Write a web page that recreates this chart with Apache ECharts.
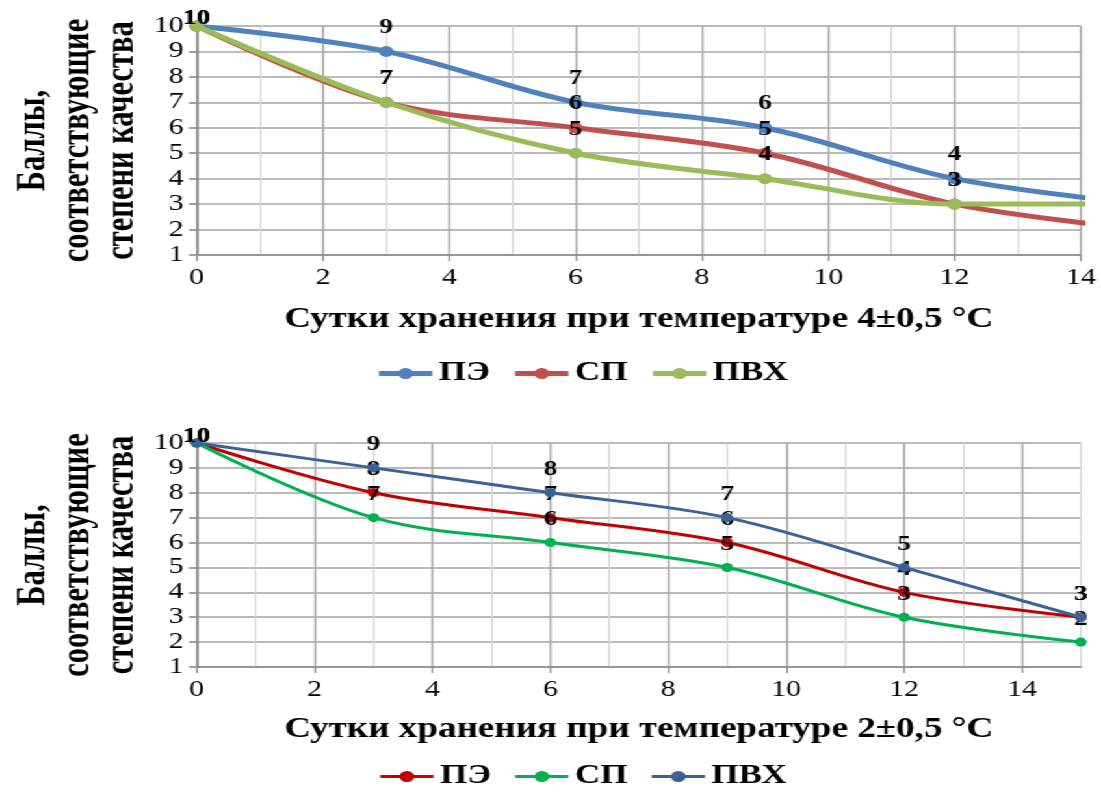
<!DOCTYPE html>
<html><head><meta charset="utf-8">
<script src="https://cdn.jsdelivr.net/npm/echarts@6/dist/echarts.min.js"></script>
<style>
html,body{margin:0;padding:0;background:#fff;overflow:hidden;width:1101px;height:794px;}
#wrap{position:absolute;left:0;top:0;width:847px;height:794px;transform:scaleX(1.3);transform-origin:0 0;}
#c1{position:absolute;left:0;top:0;width:847px;height:400px;}
#c2{position:absolute;left:0;top:400px;width:847px;height:394px;}
</style></head><body>
<div id="wrap"><div id="c1"></div><div id="c2"></div></div>
<script>
// ---- data ----
const seriesNames = ['ПЭ', 'СП', 'ПВХ'];
const days = [0, 3, 6, 9, 12, 15];
const topPE  = [10, 9, 7, 6, 4, 3];
const topSP  = [10, 7, 6, 5, 3, 2];
const topPVC = [10, 7, 5, 4, 3, 3];
const botPE  = [10, 8, 7, 6, 4, 3];
const botSP  = [10, 7, 6, 5, 3, 2];
const botPVC = [10, 9, 8, 7, 5, 3];
const xTickLabels = [0, 2, 4, 6, 8, 10, 12, 14];
const topXMax = 14;
const botXMax = 15;
const topTitle = 'Сутки хранения при температуре 4±0,5 °С';
const botTitle = 'Сутки хранения при температуре 2±0,5 °С';
const yNameLines = ['Баллы,', 'соответствующие', 'степени качества'];

// ---- styles ----
const FONT = 'Liberation Serif';
const AXIS = '#8a8a8a', MAJOR = '#a3a3a3', MINOR = '#d4d4d4';

function makeOption(cfg) {
  const series = cfg.values.map((vals, i) => ({
    name: seriesNames[i],
    type: 'line',
    xAxisIndex: 1,
    yAxisIndex: 0,
    smooth: 0.35,
    symbol: 'circle',
    symbolSize: cfg.symbolSize,
    clip: true,
    z: 3 + i,
    lineStyle: { color: cfg.colors[i], width: cfg.lineWidth },
    itemStyle: { color: cfg.colors[i], borderWidth: 0 },
    label: {
      show: true, position: 'top', distance: 8,
      fontFamily: FONT, fontWeight: 'bold', fontSize: 21, color: '#000',
      formatter: p => p.value[1]
    },
    emphasis: { disabled: true },
    data: days.map((d, j) => j === 0
      ? { value: [d, vals[j]], label: { offset: [0, 17] } }
      : [d, vals[j]])
  }));
  return {
    animation: false,
    grid: { left: 151.3, right: 15.5, top: cfg.gridTop, bottom: cfg.gridBottom, containLabel: false, outerBoundsMode: 'none' },
    legend: {
      data: seriesNames, left: cfg.legendLeft, top: cfg.legendTop, padding: 0,
      itemWidth: 41, itemHeight: 14, itemGap: 17,
      lineStyle: { width: cfg.lineWidth },
      textStyle: { fontFamily: FONT, fontWeight: 'bold', fontSize: 27, color: '#000' }
    },
    xAxis: [
      {
        type: 'value', min: 0, max: cfg.xMax, interval: 1, position: 'bottom', z: 0,
        axisLine: { show: false }, axisTick: { show: false }, axisLabel: { show: false },
        splitLine: { show: true, lineStyle: { color: MINOR, width: 1.3 } }
      },
      {
        type: 'value', min: 0, max: cfg.xMax, interval: 2, position: 'bottom',
        name: cfg.title, nameLocation: 'middle', nameGap: cfg.nameGap, nameMoveOverlap: false,
        nameTextStyle: { fontFamily: FONT, fontWeight: 'bold', fontSize: 28.5, color: '#000' },
        axisLine: { show: true, lineStyle: { color: AXIS, width: 1.6 } },
        axisTick: { show: true, length: 6, customValues: xTickLabels, lineStyle: { color: AXIS, width: 1.3 } },
        axisLabel: { customValues: xTickLabels, margin: 11, fontFamily: FONT, fontSize: 23, color: '#000' },
        splitLine: { show: true, lineStyle: { color: MAJOR, width: 1.4 } }
      }
    ],
    yAxis: {
      type: 'value', min: 1, max: 10, interval: 1,
      name: yNameLines.join('\n'), nameLocation: 'middle', nameRotate: 90, nameGap: 40, nameMoveOverlap: false,
      nameTextStyle: {
        fontFamily: FONT, fontWeight: 'bold', fontSize: 30.5, lineHeight: 34, color: '#000', align: 'center'
      },
      axisLine: { show: true, lineStyle: { color: AXIS, width: 1.6 } },
      axisTick: { show: true, length: 6, lineStyle: { color: AXIS, width: 1.6 } },
      axisLabel: { margin: 10, fontFamily: FONT, fontSize: 23, color: '#000' },
      splitLine: { show: true, lineStyle: { color: MAJOR, width: 1.6 } }
    },
    series
  };
}

const c1 = echarts.init(document.getElementById('c1'));
c1.setOption(makeOption({
  values: [topPE, topSP, topPVC],
  colors: ['#4F81BD', '#C0504D', '#9BBB59'],
  lineWidth: 5, symbolSize: 11,
  xMax: topXMax, title: topTitle, nameGap: 50,
  gridTop: 26, gridBottom: 145,
  legendLeft: 289, legendTop: 360
}));
const c2 = echarts.init(document.getElementById('c2'));
c2.setOption(makeOption({
  values: [botPE, botSP, botPVC],
  colors: ['#C00000', '#00B050', '#3A6298'],
  lineWidth: 3, symbolSize: 9,
  xMax: botXMax, title: botTitle, nameGap: 48,
  gridTop: 43, gridBottom: 127,
  legendLeft: 291, legendTop: 363
}));
</script>
</body></html>
